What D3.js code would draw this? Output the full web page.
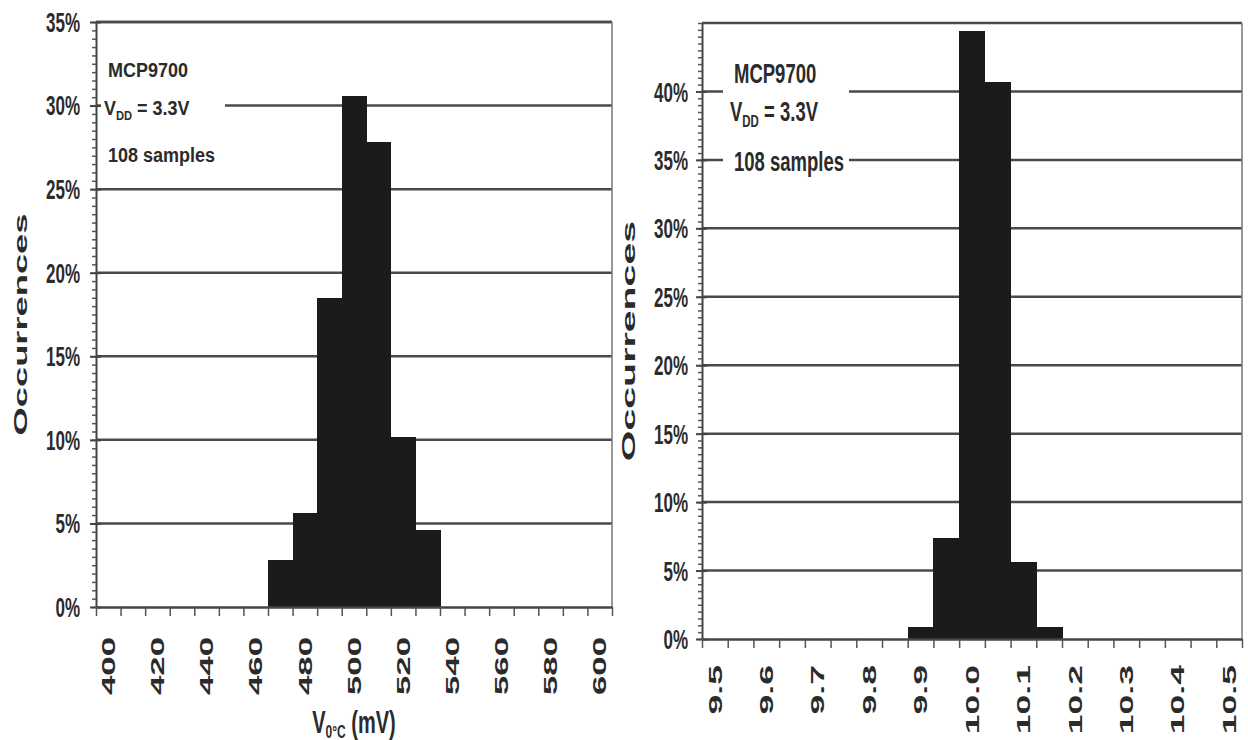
<!DOCTYPE html>
<html lang="en">
<head>
  <meta charset="UTF-8">
  <script src="https://cdn.jsdelivr.net/npm/d3@7/dist/d3.min.js"></script>
  <title>MCP9700 histograms</title>
  <style>
    body { margin: 0; background: #fff; }
    svg { display: block; }
    text { font-family: "Liberation Sans", Arial, sans-serif; font-weight: bold; fill: #2b2b2b; }
    rect.bar { shape-rendering: crispEdges; }
  </style>
</head>
<body>
<script>
  // left panel: output voltage at 0°C, 10 mV bins
  const voltBins = [400, 410, 420, 430, 440, 450, 460, 470, 480, 490, 500,
    510, 520, 530, 540, 550, 560, 570, 580, 590, 600];
  const voltPct = [0, 0, 0, 0, 0, 0, 0, 2.8, 5.6, 18.5, 30.6,
    27.8, 10.2, 4.6, 0, 0, 0, 0, 0, 0, 0];
  const voltTicks = [0, 5, 10, 15, 20, 25, 30, 35];

  // right panel: temperature coefficient bins
  const tcBins = [9.5, 9.55, 9.6, 9.65, 9.7, 9.75, 9.8, 9.85, 9.9, 9.95, 10.0,
    10.05, 10.1, 10.15, 10.2, 10.25, 10.3, 10.35, 10.4, 10.45, 10.5];
  const tcPct = [0, 0, 0, 0, 0, 0, 0, 0, 0.9, 7.4, 44.4,
    40.7, 5.6, 0.9, 0, 0, 0, 0, 0, 0, 0];
  const tcTicks = [0, 5, 10, 15, 20, 25, 30, 35, 40];

  const noteLines = ["MCP9700", "V", "108 samples"];

  const svg = d3.select("body").append("svg")
    .attr("width", 1248).attr("height", 740);

  drawPanel({
    bins: voltBins, values: voltPct, yTicks: voltTicks, yMax: 35,
    left: 96, right: 612, top: 22, bottom: 607,
    fmt: d => String(d), labelTop: 637, labelStretch: 1.83,
    yLabelX: 80, ySy: 1.6, titleX: 20, titleLen: 1.91,
    note: { x: 104, ys: [77, 115, 162], size: 18, sy: 1.17, mask: [101, 36, 124, 138] },
    xTitle: true
  });
  drawPanel({
    bins: tcBins, values: tcPct, yTicks: tcTicks, yMax: 45,
    left: 702, right: 1242, top: 23, bottom: 639,
    fmt: d => d.toFixed(1), labelTop: 665, labelStretch: 1.87,
    yLabelX: 688, ySy: 1.65, titleX: 628, titleLen: 2.07,
    note: { x: 730, ys: [83, 121, 171], size: 18.5, sy: 1.45, mask: [723, 45, 126, 138] },
    xTitle: false
  });

  function drawPanel(p) {
    const x = d3.scaleBand().domain(p.bins).range([p.left, p.right]).padding(0);
    const xi = d3.scaleLinear().domain([0, p.bins.length]).range([p.left, p.right]);
    const y = d3.scaleLinear().domain([0, p.yMax]).range([p.bottom, p.top]);
    const g = svg.append("g");

    // horizontal gridlines, the top one doubles as the frame
    g.selectAll("line.grid")
      .data(p.yTicks.filter(d => d > 0).concat(p.yMax))
      .join("line").attr("class", "grid")
      .attr("x1", p.left).attr("x2", p.right)
      .attr("y1", d => y(d)).attr("y2", d => y(d))
      .attr("stroke", "#4a4a4a").attr("stroke-width", 2.5);

    g.append("line")
      .attr("x1", p.right).attr("x2", p.right)
      .attr("y1", y(p.yMax)).attr("y2", y(0))
      .attr("stroke", "#777").attr("stroke-width", 1.5);

    // white box behind the note
    const m = p.note.mask;
    g.append("rect").attr("x", m[0]).attr("y", m[1])
      .attr("width", m[2]).attr("height", m[3]).attr("fill", "#fff");

    // bars
    g.selectAll("rect.bar")
      .data(p.bins.map((b, i) => ({ b, v: p.values[i] })).filter(d => d.v > 0))
      .join("rect").attr("class", "bar")
      .attr("x", d => x(d.b)).attr("width", x.bandwidth() + 0.5)
      .attr("y", d => y(d.v)).attr("height", d => y(0) - y(d.v))
      .attr("fill", "#1b1b1b");

    // y axis: minor ticks every 0.5 %, major ticks crossing
    const minor = d3.range(0, p.yMax + 0.01, 0.5);
    const ya = g.append("g").attr("transform", `translate(${p.left},0)`)
      .call(d3.axisLeft(y).tickValues(minor).tickSize(4).tickSizeOuter(0).tickFormat(""));
    ya.select(".domain").attr("stroke", "#444").attr("stroke-width", 2);
    ya.selectAll(".tick line").attr("stroke", "#555").attr("stroke-width", 1.5);
    g.append("g").attr("transform", `translate(${p.left},0)`)
      .call(d3.axisLeft(y).tickValues(p.yTicks).tickSize(6).tickSizeOuter(0).tickFormat(""))
      .call(a => a.select(".domain").remove())
      .selectAll(".tick line").attr("stroke", "#444").attr("stroke-width", 2).attr("x2", -6).attr("x1", 5);

    g.selectAll("text.ylab").data(p.yTicks).join("text").attr("class", "ylab")
      .attr("transform", d => `translate(${p.yLabelX},${y(d)}) scale(1,${p.ySy})`)
      .attr("text-anchor", "end").attr("dy", "0.36em")
      .attr("font-size", 17).text(d => d + "%");

    // x axis: ticks on bin edges
    const xa = g.append("g").attr("transform", `translate(0,${p.bottom})`)
      .call(d3.axisBottom(xi).tickValues(d3.range(p.bins.length + 1)).tickSize(9).tickSizeOuter(0).tickFormat(""));
    xa.select(".domain").attr("stroke", "#444").attr("stroke-width", 2.5);
    xa.selectAll(".tick line").attr("stroke", "#555").attr("stroke-width", 1.5);

    g.selectAll("text.xlab").data(p.bins.filter((d, i) => i % 2 === 0)).join("text")
      .attr("class", "xlab")
      .attr("transform", d => `translate(${x(d) + x.bandwidth() / 2},${p.labelTop}) rotate(-90) scale(${p.labelStretch},1)`)
      .attr("text-anchor", "end").attr("dy", "0.35em")
      .attr("font-size", 19).text(p.fmt);

    // y title
    g.append("text")
      .attr("transform", `translate(${p.titleX},${(p.top + p.bottom) / 2 + 10}) rotate(-90) scale(${p.titleLen},1)`)
      .attr("text-anchor", "middle").attr("dy", "0.35em")
      .attr("font-size", 19).text("Occurrences");

    // note
    const n = p.note;
    const note = (i, xoff) => g.append("text")
      .attr("transform", `translate(${n.x + (xoff || 0)},${n.ys[i]}) scale(1,${n.sy})`)
      .attr("font-size", n.size);
    note(0, 4).text(noteLines[0]);
    const vdd = note(1, 0);
    vdd.append("tspan").text(noteLines[1]);
    vdd.append("tspan").attr("font-size", n.size * 0.62).attr("dy", 4).text("DD");
    vdd.append("tspan").attr("dy", -4).text(" = 3.3V");
    note(2, 4).text(noteLines[2]);

    if (p.xTitle) {
      const t = g.append("text")
        .attr("transform", `translate(${(p.left + p.right) / 2},733) scale(1,1.6)`)
        .attr("text-anchor", "middle").attr("font-size", 20);
      t.append("tspan").text("V");
      t.append("tspan").attr("font-size", 12).attr("dy", 3).text("0°C");
      t.append("tspan").attr("dy", -3).text(" (mV)");
    }
  }
</script>
</body>
</html>
